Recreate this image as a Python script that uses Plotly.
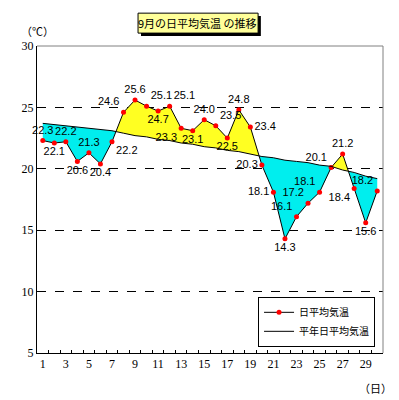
import plotly.graph_objects as go

days = list(range(1, 31))
daily = [22.3, 22.1, 22.2, 20.6, 21.3, 20.4, 22.2, 24.6, 25.6, 25.1,
         24.7, 25.1, 23.3, 23.1, 24.0, 23.5, 22.5, 24.8, 23.4, 20.3,
         18.1, 14.3, 16.1, 17.2, 18.1, 20.1, 21.2, 18.4, 15.6, 18.2]
normal = [23.7, 23.6, 23.5, 23.4, 23.3, 23.2, 23.1, 22.9, 22.7, 22.6,
          22.4, 22.3, 22.1, 22.0, 21.8, 21.7, 21.5, 21.4, 21.2, 21.0,
          20.9, 20.7, 20.6, 20.5, 20.3, 20.2, 19.9, 19.7, 19.4, 19.2]
x_ticklabels = [str(d) for d in range(1, 31, 2)]
title_text = "9月の日平均気温 の推移"
name_daily = "日平均気温"
name_normal = "平年日平均気温"

label_pos = ["top center", "bottom center", "top center", "bottom center", "top center",
             "bottom center", "bottom right", "top left", "top center", "top right",
             "bottom center", "top right", "bottom left", "bottom center", "top center",
             "top right", "bottom center", "top center", "middle right", "middle left",
             "middle left", "bottom center", "top left", "top left", "top left",
             "top left", "top center", "bottom left", "bottom center", "top left"]

YELLOW = "#FFFF22"
CYAN = "#00EEEE"


def regions(x, a, b):
    out = []
    top, bot = [], []
    sign = None
    for i in range(len(x)):
        d = a[i] - b[i]
        s = d >= 0
        if i > 0:
            dp = a[i - 1] - b[i - 1]
            if (dp >= 0) != s:
                t = dp / (dp - d)
                xc = x[i - 1] + t * (x[i] - x[i - 1])
                yc = a[i - 1] + t * (a[i] - a[i - 1])
                top.append((xc, yc)); bot.append((xc, yc))
                out.append((sign, top, bot))
                top, bot = [(xc, yc)], [(xc, yc)]
                sign = s
        if sign is None:
            sign = s
        top.append((x[i], a[i])); bot.append((x[i], b[i]))
    out.append((sign, top, bot))
    return out


fig = go.Figure()
for s, top, bot in regions(days, daily, normal):
    pts = top + bot[::-1]
    fig.add_trace(go.Scatter(
        x=[p[0] for p in pts], y=[p[1] for p in pts], mode="lines",
        fill="toself", fillcolor=YELLOW if s else CYAN,
        line=dict(width=0), showlegend=False, hoverinfo="skip"))

fig.add_trace(go.Scatter(
    x=days, y=daily, mode="lines+markers+text", name=name_daily,
    line=dict(color="black", width=1), cliponaxis=False,
    marker=dict(color="red", size=5, symbol="circle"),
    text=[f"{v:.1f}" for v in daily], textposition=label_pos,
    textfont=dict(family="Liberation Sans, Arial", size=11, color="black")))
fig.add_trace(go.Scatter(
    x=days, y=normal, mode="lines", name=name_normal,
    line=dict(color="black", width=1)))

fig.update_layout(
    width=399, height=400,
    margin=dict(l=37, r=16, t=46, b=47),
    paper_bgcolor="white", plot_bgcolor="white",
    font=dict(family="Noto Sans CJK JP", size=11, color="black"),
    legend=dict(x=0.977, y=0.183, xanchor="right", yanchor="top",
                bgcolor="white", bordercolor="black", borderwidth=1,
                font=dict(family="Noto Sans CJK JP", size=10),
                tracegroupgap=0, itemwidth=30),
    xaxis=dict(range=[0.5, 30.5], showgrid=False, zeroline=False,
               tickmode="array", tickvals=list(range(1, 31, 2)), ticktext=x_ticklabels,
               ticks="", showline=True, linecolor="black", linewidth=1, mirror=False,
               tickfont=dict(family="Liberation Serif", size=12),
               minor=dict(tickmode="array", tickvals=[d + 0.5 for d in days[:-1]],
                          ticks="inside", ticklen=3, tickcolor="black", showgrid=False)),
    yaxis=dict(range=[5, 30], tickvals=[5, 10, 15, 20, 25, 30], ticks="",
               showgrid=True, gridcolor="black", griddash="dash", gridwidth=1,
               zeroline=False, showline=True, linecolor="black", linewidth=1,
               tickfont=dict(family="Liberation Serif", size=12)),
    shapes=[
        dict(type="line", xref="paper", yref="paper", x0=0, x1=1, y0=1, y1=1,
             line=dict(color="gray", width=1)),
        dict(type="line", xref="paper", yref="paper", x0=1, x1=1, y0=0, y1=1,
             line=dict(color="gray", width=1)),
        dict(type="rect", xref="paper", yref="paper", x0=0.3006, x1=0.647, y0=1.0326, y1=1.098,
             line=dict(width=0), fillcolor="black"),
        dict(type="rect", xref="paper", yref="paper", x0=0.292, x1=0.639, y0=1.042, y1=1.107,
             line=dict(color="black", width=1), fillcolor="#FFFF99"),
    ],
    annotations=[
        dict(text=title_text, xref="paper", yref="paper", x=0.465, y=1.075,
             xanchor="center", yanchor="middle", showarrow=False,
             font=dict(family="Noto Sans CJK JP", size=11)),
        dict(text="（℃）", xref="paper", yref="paper", x=0.0, y=1.049,
             xanchor="center", yanchor="middle", showarrow=False,
             font=dict(family="Noto Sans CJK JP", size=11)),
        dict(text="（日）", xref="paper", yref="paper", x=0.977, y=-0.114,
             xanchor="center", yanchor="middle", showarrow=False,
             font=dict(family="Noto Sans CJK JP", size=11)),
    ],
)

fig.write_html("out.html", config={"displayModeBar": False},
               post_script="document.body.style.margin='0';")
